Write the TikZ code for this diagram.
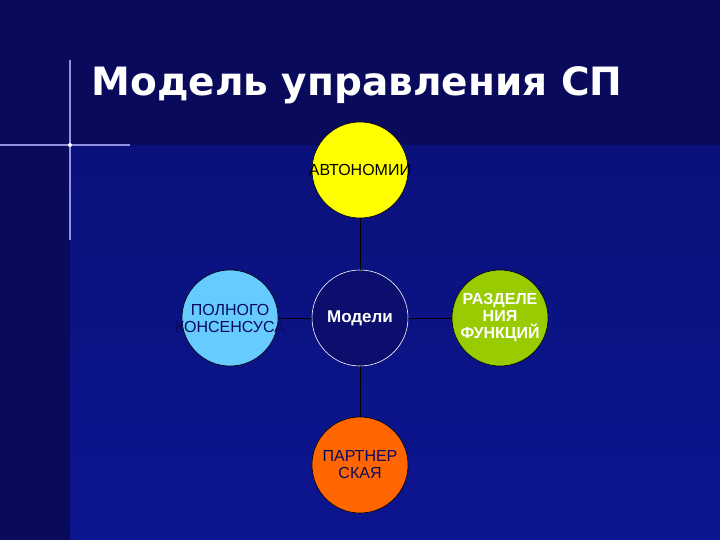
\documentclass[tikz,border=0pt]{standalone}
\usepackage{fontspec}
\setmainfont{DejaVu Sans}
\newfontfamily\lab{Liberation Sans}
\definecolor{bgtop}{HTML}{0A0A5C}
\definecolor{bglow}{HTML}{0C1690}
\definecolor{cyel}{HTML}{FFFF00}
\definecolor{cblu}{HTML}{66CCFF}
\definecolor{cgrn}{HTML}{99CC00}
\definecolor{corg}{HTML}{FF6600}
\begin{document}
\begin{tikzpicture}[x=1pt,y=-1pt,
  circ/.style={circle,minimum size=96pt,inner sep=0pt,draw=black,line width=0.6pt},
  txt/.style={align=center,inner sep=0pt,font=\lab\fontsize{16}{17}\selectfont,text=black},
  conn/.style={draw=black,line width=0.8pt}]
\useasboundingbox (0,0) rectangle (720,540);
\fill[bgtop] (0,0) rectangle (720,540);
\shade[top color=bgtop,bottom color=bglow] (70,145) rectangle (720,540);
\fill[bglow,opacity=0.6] (70,145) rectangle (720,540);
% star
\draw[blue!30!white,line width=1.5pt,opacity=0.8] (0,145) -- (130,145);
\draw[blue!30!white,line width=1.5pt,opacity=0.8] (70,60) -- (70,240);
\fill[white] (70,145) circle (2);
\node[anchor=west,text=white,font=\bfseries\fontsize{39}{40}\selectfont] (title) at (88,85) {Модель управления СП};
\node[circ,fill=cyel] (top) at (360,170) {};
\node[circ,fill=bgtop!70!bglow,draw=white] (mid) at (360,318) {};
\node[circ,fill=cblu] (left) at (230,318) {};
\node[circ,fill=cgrn] (right) at (500,318) {};
\node[circ,fill=corg] (bot) at (360,465) {};
\node[txt] (ttop) at (top) {АВТОНОМИИ};
\node[txt,text=white,font=\lab\bfseries\fontsize{17}{18}\selectfont] (tmid) at (mid) {Модели};
\node[txt,text=bgtop] (tleft) at (left) {ПОЛНОГО\\КОНСЕНСУСА};
\node[txt,text=white,font=\lab\bfseries\fontsize{16}{17}\selectfont] (tright) at (right) {РАЗДЕЛЕ\\НИЯ\\ФУНКЦИЙ};
\node[txt,text=bgtop] (tbot) at (bot) {ПАРТНЕР\\СКАЯ};
\draw[conn] (top) -- (mid);
\draw[conn] (mid) -- (bot);
\draw[conn] (left) -- (mid);
\draw[conn] (mid) -- (right);
\end{tikzpicture}
\end{document}
